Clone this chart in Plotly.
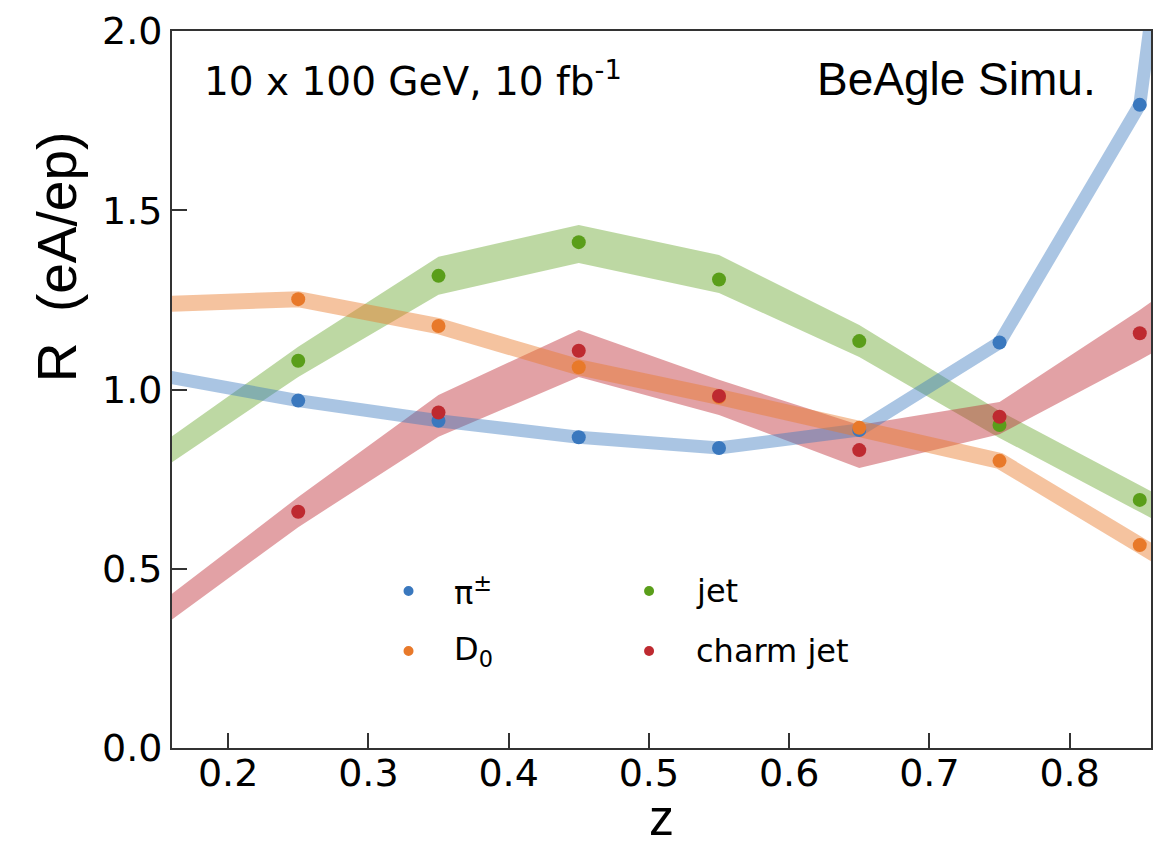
import plotly.graph_objects as go

# z bins
z = [0.25, 0.35, 0.45, 0.55, 0.65, 0.75, 0.85]

# R(eA/ep) per species
r_pion = [0.969, 0.913, 0.867, 0.837, 0.887, 1.131, 1.794]
r_d0 = [1.252, 1.177, 1.062, 0.979, 0.893, 0.801, 0.566]
r_jet = [1.080, 1.317, 1.411, 1.307, 1.135, 0.901, 0.692]
r_cjet = [0.659, 0.936, 1.108, 0.982, 0.831, 0.924, 1.157]

# uncertainty band nodes (extended past the first and last bin)
band_z = [0.15, 0.25, 0.35, 0.45, 0.55, 0.65, 0.75, 0.85, 0.95]
pion_edges = [1.040, 4.80]
d0_edges = [1.238, 0.330]
jet_hi = [0.842, 1.119, 1.370, 1.459, 1.375, 1.180, 0.940, 0.733, 0.52]
jet_lo = [0.771, 1.035, 1.264, 1.353, 1.269, 1.091, 0.865, 0.658, 0.45]
cjet_hi = [0.400, 0.700, 0.985, 1.166, 1.027, 0.901, 0.965, 1.222, 1.50]
cjet_lo = [0.330, 0.616, 0.868, 1.035, 0.929, 0.781, 0.875, 1.082, 1.30]

names = ["π<sup>±</sup>", "D<sub>0</sub>", "jet", "charm jet"]
colors = ["#3a78be", "#e8792a", "#5a9e1a", "#be2a30"]
bands = ["rgba(58,120,190,0.43)", "rgba(232,121,42,0.45)",
         "rgba(90,158,26,0.40)", "rgba(190,40,50,0.44)"]

fig = go.Figure()

# wide filled bands
for hi, lo, col in [(jet_hi, jet_lo, bands[2]), (cjet_hi, cjet_lo, bands[3])]:
    fig.add_trace(go.Scatter(
        x=band_z + band_z[::-1], y=hi + lo[::-1], mode="lines",
        fill="toself", fillcolor=col, line=dict(width=0),
        hoverinfo="skip", showlegend=False))

# narrow bands drawn as thick translucent lines
for vals, edges, col, w in [(r_pion, pion_edges, bands[0], 13),
                            (r_d0, d0_edges, bands[1], 16)]:
    fig.add_trace(go.Scatter(
        x=band_z, y=[edges[0]] + vals + [edges[1]], mode="lines",
        line=dict(color=col, width=w), hoverinfo="skip", showlegend=False))

# central values
for vals, col, nm in zip([r_pion, r_d0, r_jet, r_cjet], colors, names):
    fig.add_trace(go.Scatter(
        x=z, y=vals, mode="markers", name=nm,
        marker=dict(color=col, size=14, line=dict(width=0)),
        showlegend=False))

# hand-placed two-column key
key_x = [0.2416, 0.2416, 0.4873, 0.4873]
key_y = [0.219, 0.1353, 0.219, 0.1353]
text_x = [0.2864, 0.2864, 0.5331, 0.5331]
shapes = []
annotations = []
for kx, ky, tx, col, nm in zip(key_x, key_y, text_x, colors, names):
    shapes.append(dict(type="circle", xref="paper", yref="paper",
                       xsizemode="pixel", ysizemode="pixel",
                       xanchor=kx, yanchor=ky, x0=-5, x1=5, y0=-5, y1=5,
                       fillcolor=col, line=dict(width=0)))
    annotations.append(dict(text=nm, xref="paper", yref="paper", x=tx, y=ky,
                            xanchor="left", yanchor="middle", showarrow=False,
                            font=dict(family="DejaVu Sans", size=32, color="black")))

annotations += [
    dict(text="10 x 100 GeV, 10 fb<sup>-1</sup>", xref="paper", yref="paper",
         x=0.0306, y=0.933, xanchor="left", yanchor="middle", showarrow=False,
         font=dict(family="DejaVu Sans", size=39, color="black")),
    dict(text="BeAgle Simu.", xref="paper", yref="paper",
         x=0.946, y=0.933, xanchor="right", yanchor="middle", showarrow=False,
         font=dict(family="Liberation Sans", size=46, color="black")),
    dict(text="R  (eA/ep)", xref="paper", yref="paper", textangle=-90,
         x=-0.118, y=0.685, xanchor="center", yanchor="middle", showarrow=False,
         font=dict(family="Liberation Sans", size=55, color="black")),
    dict(text="z", xref="paper", yref="paper",
         x=0.5, y=-100 / 717, xanchor="center", yanchor="bottom", showarrow=False,
         font=dict(family="Liberation Sans", size=50, color="black")),
]

axis_common = dict(showline=True, linecolor="#333333", linewidth=2, mirror=True,
                   ticks="inside", ticklen=15, tickwidth=2, tickcolor="#333333",
                   showgrid=False, zeroline=False,
                   tickfont=dict(family="DejaVu Sans", size=38, color="black"))

fig.update_layout(
    width=1157, height=848,
    margin=dict(l=172, r=4, t=31, b=100),
    paper_bgcolor="white", plot_bgcolor="white",
    xaxis=dict(range=[0.160, 0.858], tickmode="array",
               tickvals=[0.2, 0.3, 0.4, 0.5, 0.6, 0.7, 0.8],
               ticktext=["0.2", "0.3", "0.4", "0.5", "0.6", "0.7", "0.8"],
               ticklabelstandoff=-10, **axis_common),
    yaxis=dict(range=[0, 2], tickmode="array",
               tickvals=[0, 0.5, 1.0, 1.5, 2.0],
               ticktext=["0.0", "0.5", "1.0", "1.5", "2.0"],
               ticklabelstandoff=0, **axis_common),
    shapes=shapes,
    annotations=annotations,
    showlegend=False,
)

fig.write_html("out.html")
